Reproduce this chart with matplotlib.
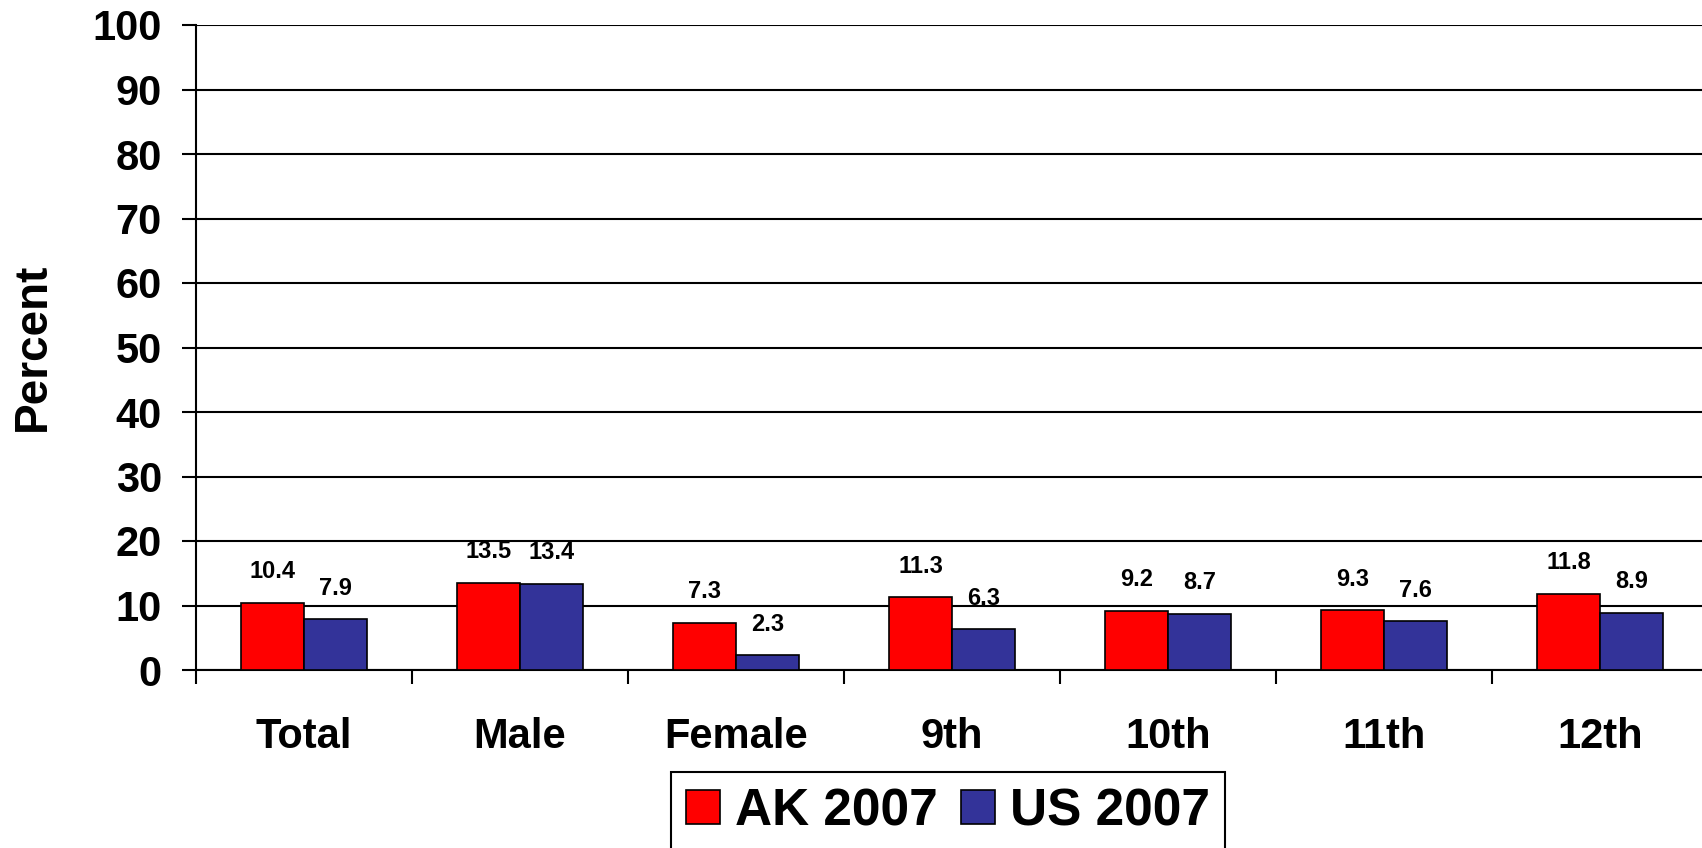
import matplotlib
matplotlib.use("Agg")
import matplotlib.pyplot as plt
import numpy as np

# Данные
categories = ["Total", "Male", "Female", "9th", "10th", "11th", "12th"]
ak_2007 = [10.4, 13.5, 7.3, 11.3, 9.2, 9.3, 11.8]
us_2007 = [7.9, 13.4, 2.3, 6.3, 8.7, 7.6, 8.9]
series_labels = ["AK 2007", "US 2007"]
y_ticks = list(range(0, 101, 10))

plt.rcParams['font.family'] = ['Liberation Sans', 'DejaVu Sans']

W, H = 1702, 848
fig = plt.figure(figsize=(W / 100, H / 100), dpi=100)
ax = fig.add_axes([196 / W, 1 - 670 / H, 1512 / W, 645 / H])

x = np.arange(len(categories))
bw = 0.29
b1 = ax.bar(x - bw / 2, ak_2007, bw, color='#FF0000', edgecolor='black', linewidth=1.2,
            label=series_labels[0], zorder=3)
b2 = ax.bar(x + bw / 2, us_2007, bw, color='#333399', edgecolor='black', linewidth=1.2,
            label=series_labels[1], zorder=3)

for bars, vals in ((b1, ak_2007), (b2, us_2007)):
    for r, v in zip(bars, vals):
        ax.annotate(f"{v:.1f}", (r.get_x() + r.get_width() / 2, v),
                    xytext=(0, 14), textcoords='offset points',
                    ha='center', va='bottom', fontsize=17, fontweight='bold')

ax.set_xlim(-0.5, len(categories) - 0.5)
ax.set_ylim(0, 100)
ax.set_yticks(y_ticks)
ax.set_yticklabels([str(t) for t in y_ticks], fontsize=30, fontweight='bold')
ax.yaxis.grid(True, color='black', linewidth=1.5, zorder=0)
ax.set_axisbelow(True)

# Метки категорий — по центру, деления — по границам
ax.set_xticks(x)
ax.set_xticklabels(categories, fontsize=30, fontweight='bold')
ax.tick_params(axis='x', which='major', length=0, pad=34)
ax.set_xticks(np.arange(-0.5, len(categories), 1.0), minor=True)
ax.tick_params(axis='x', which='minor', length=10, width=1.5, direction='out')
ax.tick_params(axis='y', length=10, width=1.5, pad=14.5)

for s in ('top', 'right'):
    ax.spines[s].set_visible(False)
ax.spines['left'].set_linewidth(1.5)
ax.spines['bottom'].set_linewidth(1.5)

fig.text(33 / W, 1 - 347 / H, "Percent", rotation=90, ha='center', va='center',
         fontsize=33, fontweight='bold')

leg = fig.legend(loc='upper center', bbox_to_anchor=(948 / W, 1 - 772 / H), ncol=2,
                 prop={'weight': 'bold', 'size': 37},
                 frameon=True, fancybox=False, edgecolor='black', framealpha=1,
                 handlelength=0.66, handleheight=0.64, handletextpad=0.29,
                 columnspacing=0.45, borderpad=0.3, borderaxespad=0)
leg.get_frame().set_linewidth(1.5)

fig.savefig("out.png", dpi=100)
